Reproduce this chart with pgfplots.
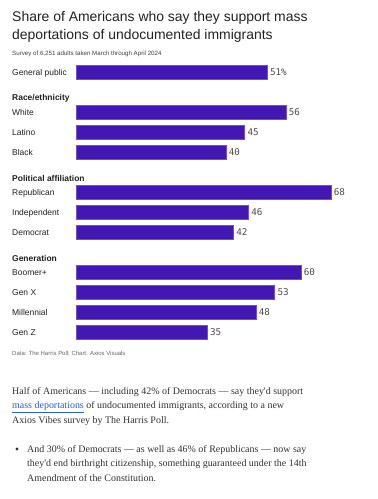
\documentclass[border=0pt]{standalone}
\usepackage{pgfplots}
\pgfplotsset{compat=1.18}
\usepackage{fontspec}
\setmainfont{Liberation Sans}
\newfontfamily\serif{Liberation Serif}
\newfontfamily\mono{DejaVu Sans Mono}
\definecolor{barc}{HTML}{4318B2}
\definecolor{bare}{HTML}{6E50D0}
\definecolor{linkc}{HTML}{2F5FD8}
\definecolor{txt}{HTML}{222222}
\definecolor{ptxt}{HTML}{333333}
\begin{document}
\begin{tikzpicture}[x=1bp,y=1bp]
\path[fill=white] (0,0) rectangle (377,-499);
\tikzset{lab/.style={anchor=base west, inner sep=0pt, text=txt}}
\node[lab, font=\fontsize{14}{16}\selectfont] at (12,-22) {Share of Americans who say they support mass};
\node[lab, font=\fontsize{14}{16}\selectfont] at (12,-40) {deportations of undocumented immigrants};
\node[lab, font=\fontsize{6.2}{7}\selectfont, text=black!75] at (12,-56) {Survey of 6,251 adults taken March through April 2024};
\begin{axis}[
  at={(76bp,-62bp)}, anchor=north west, scale only axis,
  width=300bp, height=280bp,
  xmin=0, xmax=80, ymin=-0.5, ymax=13.5, y dir=reverse,
  hide axis, clip=false,
  xbar, bar width=14bp, bar shift=0pt,
  point meta=x,
  /pgf/number format/assume math mode=true,
  nodes near coords={\pgfmathprintnumber{\pgfplotspointmeta}},
  every node near coord/.append style={font=\mono\fontsize{9.3}{10}\selectfont, text=black!70, anchor=west, inner sep=2.5pt},
]
\addplot[fill=barc, draw=bare, line width=0.6bp,
  nodes near coords={\pgfmathprintnumber{\pgfplotspointmeta}\%}] coordinates {(51,0)};
\addplot[fill=barc, draw=bare, line width=0.6bp] coordinates {
(56,2) (45,3) (40,4) (68,6) (46,7) (42,8) (60,10) (53,11) (48,12) (35,13)};
\tikzset{cat/.style={anchor=base west, inner sep=0pt, yshift=-3bp, text=txt, font=\fontsize{8.5}{10}\selectfont},
  hdr/.style={cat, font=\fontsize{8.5}{10}\selectfont\bfseries}}
\node[cat] at (axis cs:-17.07,0) {General public};
\node[hdr] at (axis cs:-17.07,1.25) {Race/ethnicity};
\node[cat] at (axis cs:-17.07,2) {White};
\node[cat] at (axis cs:-17.07,3) {Latino};
\node[cat] at (axis cs:-17.07,4) {Black};
\node[hdr] at (axis cs:-17.07,5.3) {Political affiliation};
\node[cat] at (axis cs:-17.07,6) {Republican};
\node[cat] at (axis cs:-17.07,7) {Independent};
\node[cat] at (axis cs:-17.07,8) {Democrat};
\node[hdr] at (axis cs:-17.07,9.3) {Generation};
\node[cat] at (axis cs:-17.07,10) {Boomer+};
\node[cat] at (axis cs:-17.07,11) {Gen X};
\node[cat] at (axis cs:-17.07,12) {Millennial};
\node[cat] at (axis cs:-17.07,13) {Gen Z};
\end{axis}
\node[lab, font=\fontsize{6}{7}\selectfont, text=black!60] at (12,-355) {Data: The Harris Poll; Chart: Axios Visuals};
\tikzset{para/.style={anchor=base west, inner sep=0pt, text=ptxt, font=\serif\fontsize{10}{12}\selectfont}}
\node[para] at (12,-394) {Half of Americans — including 42\% of Democrats — say they'd support};
\node[para] at (12,-408.5) {\textcolor{linkc}{\underline{mass deportations}} of undocumented immigrants, according to a new};
\node[para] at (12,-423) {Axios Vibes survey by The Harris Poll.};
\fill[ptxt] (17,-449) circle (1.7);
\node[para] at (27,-452) {And 30\% of Democrats — as well as 46\% of Republicans — now say};
\node[para] at (27,-466.5) {they'd end birthright citizenship, something guaranteed under the 14th};
\node[para] at (27,-481) {Amendment of the Constitution.};
\end{tikzpicture}
\end{document}
